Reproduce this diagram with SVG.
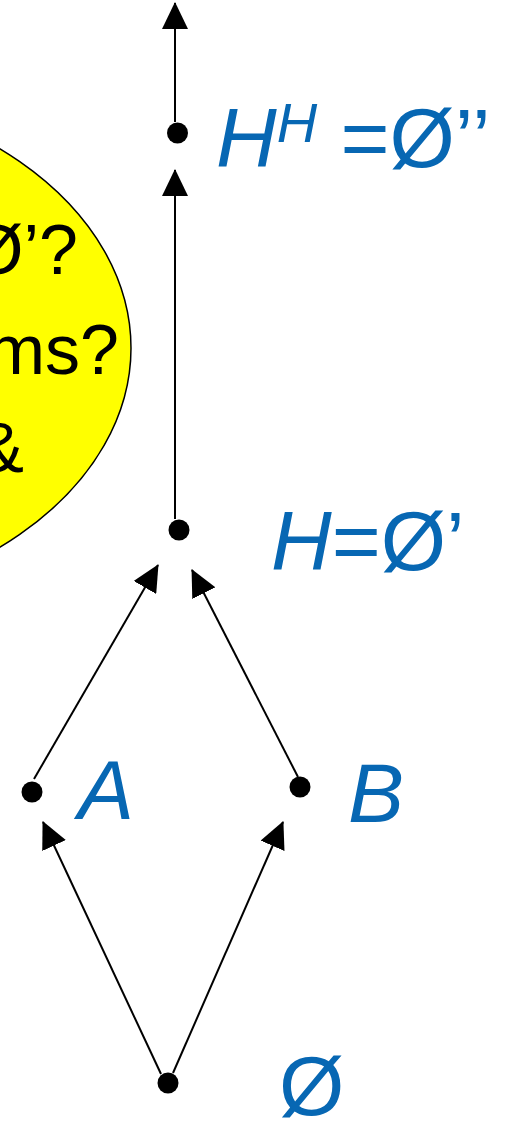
<svg xmlns="http://www.w3.org/2000/svg" width="506" height="1121" viewBox="0 0 506 1121">
  <style>
    .lbl { font-family: "Liberation Sans", Arial, sans-serif; font-size: 84px; fill: #0767B3; }
    .it { font-style: italic; }
    .q { font-family: "Liberation Sans", Arial, sans-serif; font-size: 70px; fill: #000; }
    .edge { stroke: #000; stroke-width: 2; fill: none; marker-end: url(#ah); }
    .dot { fill: #000; }
  </style>
  <defs>
    <marker id="ah" markerUnits="userSpaceOnUse" markerWidth="27" markerHeight="26" refX="26" refY="13" orient="auto" viewBox="0 0 27 26">
      <path d="M0,0 L27,13 L0,26 z" fill="#000"/>
    </marker>
  </defs>

  <g id="question">
    <ellipse cx="-250" cy="348" rx="381" ry="264" fill="#FFFF00" stroke="#000" stroke-width="1.5"/>
    <text class="q" x="78" y="274" text-anchor="end">Ø’?</text>
    <text class="q" x="119" y="374" text-anchor="end">ms?</text>
    <text class="q" x="24" y="472" text-anchor="end">&amp;</text>
  </g>

  <g id="connectors">
    <line class="edge" x1="175" y1="122" x2="175" y2="3"/>
    <line class="edge" x1="175" y1="519" x2="175" y2="170"/>
    <line class="edge" x1="34" y1="779" x2="158" y2="565"/>
    <line class="edge" x1="298" y1="777" x2="192" y2="570"/>
    <line class="edge" x1="161" y1="1074" x2="43" y2="822"/>
    <line class="edge" x1="173" y1="1073" x2="283" y2="822"/>
  </g>

  <g id="node-HH">
    <circle class="dot" cx="177.5" cy="133" r="10.5"/>
    <text class="lbl" x="216" y="167"><tspan class="it">H</tspan><tspan class="it" font-size="56" dy="-25">H</tspan><tspan dy="25"> =Ø’’</tspan></text>
  </g>
  <g id="node-H">
    <circle class="dot" cx="179" cy="530" r="10.5"/>
    <text class="lbl" x="271" y="570"><tspan class="it">H</tspan>=Ø’</text>
  </g>
  <g id="node-A">
    <circle class="dot" cx="32" cy="792" r="10.5"/>
    <text class="lbl it" x="78" y="819">A</text>
  </g>
  <g id="node-B">
    <circle class="dot" cx="300" cy="787" r="10.5"/>
    <text class="lbl it" x="348" y="822">B</text>
  </g>
  <g id="node-empty">
    <circle class="dot" cx="168" cy="1083" r="10.5"/>
    <text class="lbl" x="279" y="1115">Ø</text>
  </g>
</svg>
